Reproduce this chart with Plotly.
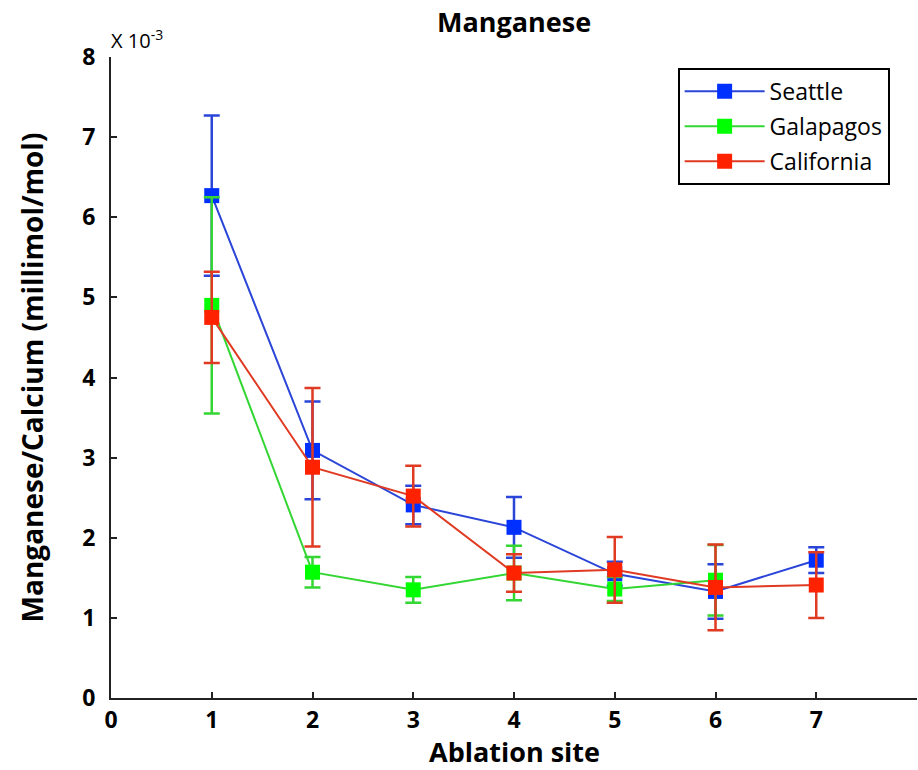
import plotly.graph_objects as go

# Values in units of 10^-3 millimol/mol
sites = [1, 2, 3, 4, 5, 6, 7]
seattle = [6.27, 3.09, 2.41, 2.13, 1.55, 1.33, 1.72]
seattle_err = [1.00, 0.61, 0.24, 0.38, 0.15, 0.34, 0.16]
galapagos = [4.90, 1.57, 1.35, 1.56, 1.36, 1.47]
galapagos_err = [1.35, 0.19, 0.16, 0.34, 0.15, 0.44]
california = [4.75, 2.88, 2.52, 1.56, 1.60, 1.38, 1.41]
california_err = [0.57, 0.99, 0.38, 0.235, 0.41, 0.535, 0.41]

x_ticks = [0, 1, 2, 3, 4, 5, 6, 7]
y_ticks = [0, 1, 2, 3, 4, 5, 6, 7, 8]

FONT = "Open Sans"

series = [
    ("Seattle", sites, seattle, seattle_err, "#2a45d8", "#0030ff"),
    ("Galapagos", sites[:6], galapagos, galapagos_err, "#33d633", "#00ff00"),
    ("California", sites, california, california_err, "#e03a22", "#ff2200"),
]

fig = go.Figure()
for name, xs, ys, es, lc, mc in series:
    fig.add_trace(go.Scatter(
        x=xs, y=ys, name=name, mode="lines+markers", legendgroup=name,
        line=dict(color=lc, width=2),
        marker=dict(symbol="square", size=15, color=mc,
                    line=dict(width=0)),
        error_y=dict(type="data", array=es, visible=True, color=lc,
                     thickness=2.5, width=8),
    ))

fig.update_layout(
    width=918, height=770,
    margin=dict(l=111, r=1, t=57, b=72),
    paper_bgcolor="white", plot_bgcolor="white",
    font=dict(family=FONT, color="black"),
    title=dict(text="<b>Manganese</b>", x=0.56, xanchor="center",
               y=0.971, yanchor="middle", font=dict(size=27, family=FONT)),
    xaxis=dict(range=[0, 8], tickvals=x_ticks, ticks="inside", ticklen=6,
               tickwidth=2, tickcolor="#222", showline=True, linewidth=2,
               linecolor="#222", showgrid=False, zeroline=False,
               ticklabelstandoff=0,
               tickfont=dict(size=23, family=FONT, weight="bold")),
    yaxis=dict(range=[0, 8], tickvals=y_ticks, ticks="inside", ticklen=6,
               tickwidth=2, tickcolor="#222", showline=True, linewidth=2,
               linecolor="#222", showgrid=False, zeroline=False,
               ticklabelstandoff=9,
               tickfont=dict(size=23, family=FONT, weight="bold"),
               title=dict(text="<b>Manganese/Calcium (millimol/mol)</b>",
                          font=dict(size=28, family=FONT), standoff=30)),
    legend=dict(x=0.703, y=0.983, xanchor="left", yanchor="top",
                bgcolor="white", bordercolor="black", borderwidth=2,
                font=dict(size=23, family=FONT), itemwidth=80,
                tracegroupgap=2),
    showlegend=True,
)

# x-axis title
fig.add_annotation(text="<b>Ablation site</b>", xref="paper", yref="paper",
                   x=0.5, y=-0.083, xanchor="center", yanchor="middle",
                   showarrow=False, font=dict(size=27, family=FONT))

fig.add_annotation(text="X 10<sup>-3</sup>", xref="paper", yref="paper",
                   x=0.0, y=1.0, xanchor="left", yanchor="bottom",
                   showarrow=False, font=dict(size=20, family=FONT),
                   xshift=-2, yshift=1)

fig.write_html("out.html")
